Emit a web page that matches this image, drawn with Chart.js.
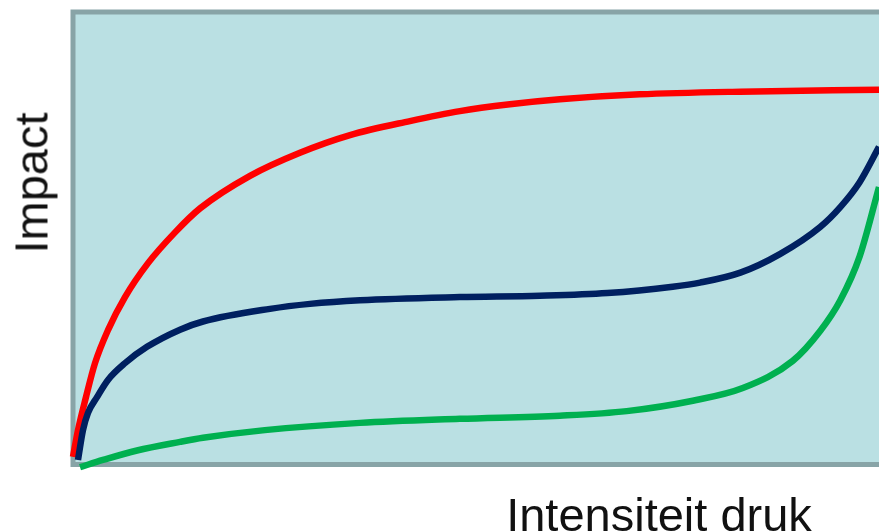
<!DOCTYPE html>
<html>
<head>
<meta charset="utf-8">
<script src="https://cdn.jsdelivr.net/npm/chart.js@4"></script>
<style>
  html, body { margin: 0; padding: 0; background: #ffffff; overflow: hidden; }
  #wrap { position: relative; width: 879px; height: 532px; }
  .titel {
    position: absolute;
    font-family: "Liberation Sans", Arial, sans-serif;
    font-size: 47px;
    line-height: 47px;
    color: #111111;
    white-space: nowrap;
  }
  #titelY { left: 31px; top: 183px; transform: translate(-50%, -50%) rotate(-90deg); }
  #titelX { left: 659px; top: 514px; transform: translate(-50%, -50%); }
</style>
</head>
<body>
<div id="wrap">
  <canvas id="impactChart" width="879" height="532"></canvas>
  <div class="titel" id="titelY">Impact</div>
  <div class="titel" id="titelX">Intensiteit druk</div>
</div>
<script>
// waarden (x en y op een schaal van 0 tot 100)
const rodeX = [0, 0.62, 1.61, 2.73, 4.34, 6.45, 9.31, 12.66, 15.76, 21.96, 28.16, 34.37, 41.8, 48.0, 54.2, 60.4, 70.3, 82.8, 100];
const rodeY = [1.7, 7.6, 14.9, 22.4, 29.7, 37.0, 44.5, 51.3, 56.6, 63.8, 68.9, 72.8, 75.9, 78.1, 79.6, 80.7, 81.8, 82.4, 82.8];

const blauweX = [0.62, 1.24, 1.86, 2.98, 4.34, 6.45, 9.18, 13.28, 16.13, 24.44, 29.4, 35.6, 48.0, 57.9, 66.3, 74.4, 77.8, 82.8, 87.7, 92.7, 95.2, 97.6, 100];
const blauweY = [1.0, 7.6, 11.4, 14.9, 18.7, 22.4, 26.0, 29.8, 31.6, 34.4, 35.5, 36.3, 37.0, 37.3, 37.9, 39.3, 40.2, 42.4, 46.5, 52.5, 56.9, 62.4, 70.2];

const groeneX = [0.87, 3.72, 7.94, 13.28, 16.13, 23.8, 35.6, 48.0, 60.4, 68.7, 76.9, 83.1, 89.3, 92.7, 95.2, 97.6, 100];
const groeneY = [-0.6, 1.0, 3.1, 5.0, 5.9, 7.6, 9.2, 10.1, 10.8, 11.8, 14.1, 16.9, 22.9, 29.5, 36.3, 46.0, 61.3];

function maakPunten(xs, ys) {
  return xs.map((x, i) => ({ x: x, y: ys[i] }));
}

// achtergrond en rand van het grafiekvlak
const vlakPlugin = {
  id: "vlak",
  beforeDatasetsDraw(chart) {
    const { ctx, chartArea } = chart;
    ctx.save();
    ctx.fillStyle = "#bae0e3";
    ctx.fillRect(chartArea.left, chartArea.top, chartArea.right - chartArea.left, chartArea.bottom - chartArea.top);
    ctx.strokeStyle = "#88a4a7";
    ctx.lineWidth = 5;
    ctx.beginPath();
    ctx.moveTo(chartArea.right + 5, chartArea.top);
    ctx.lineTo(chartArea.left, chartArea.top);
    ctx.lineTo(chartArea.left, chartArea.bottom);
    ctx.lineTo(chartArea.right + 5, chartArea.bottom);
    ctx.stroke();
    ctx.restore();
  },
};

const lijn = (label, punten, kleur) => ({
  label: label,
  data: punten,
  borderColor: kleur,
  borderWidth: 6.5,
  pointRadius: 0,
  fill: false,
  cubicInterpolationMode: "monotone",
  clip: 10,
});

const ctx = document.getElementById("impactChart").getContext("2d");
const myChart = new Chart(ctx, {
  type: "line",
  data: {
    datasets: [
      lijn("Groen", maakPunten(groeneX, groeneY), "#00b050"),
      lijn("Blauw", maakPunten(blauweX, blauweY), "#002060"),
      lijn("Rood", maakPunten(rodeX, rodeY), "#ff0000"),
    ],
  },
  options: {
    responsive: false,
    animation: false,
    layout: { padding: { left: 73, top: 12, right: 0, bottom: 67.5 } },
    plugins: { legend: { display: false }, tooltip: { enabled: false } },
    scales: {
      x: { type: "linear", min: 0, max: 100, display: false },
      y: { min: 0, max: 100, display: false },
    },
  },
  plugins: [vlakPlugin],
});
</script>
</body>
</html>
